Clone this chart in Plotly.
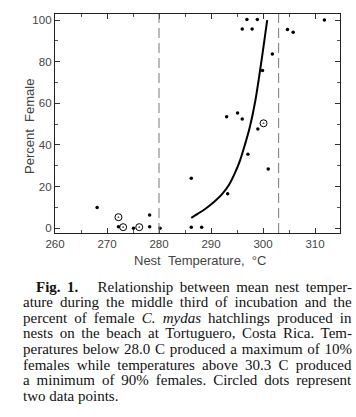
import plotly.graph_objects as go

# ---- data ----
temp_single = [268.1, 272.2, 275.1, 278.2, 278.2, 280.2, 286.2, 286.2, 288.2, 293.2,
               301.0, 293.0, 295.1, 296.0, 299.0, 297.1, 296.9, 298.9, 296.0, 297.9,
               301.8, 299.9, 304.7, 305.8, 311.8]
pct_single = [10, 0.7, 0, 6.3, 0.7, 0, 24, 0.5, 0.5, 16.5,
              28.5, 53.5, 55.3, 52.5, 47.7, 35.5, 100.3, 100.3, 95.7, 95.7,
              83.7, 75.7, 95.5, 94.1, 100]
temp_circled = [272.2, 273.1, 276.2, 300.1]
pct_circled = [5.3, 0.5, 0.5, 50.4]
curve_temp = [286.2, 287.5, 289.0, 290.5, 292.0, 293.5, 294.5, 295.5, 296.5, 297.5,
              298.5, 299.5, 300.8]
curve_pct = [5, 7, 9.5, 12.5, 16, 21, 26, 32, 40, 49, 61, 77, 100]
thresholds = [280, 303]
x_ticks = [260, 270, 280, 290, 300, 310]
y_ticks = [0, 20, 40, 60, 80, 100]

caption_lines = [
    "<b>Fig. 1.</b>\u00a0\u00a0\u00a0Relationship between mean nest temper-",
    "ature during the middle third of incubation and the",
    "percent of female <i>C. mydas</i> hatchlings produced in",
    "nests on the beach at Tortuguero, Costa Rica. Tem-",
    "peratures below 28.0 C produced a maximum of 10%",
    "females while temperatures above 30.3 C produced",
    "a minimum of 90% females. Circled dots represent",
    "two data points.",
]

W, H = 356, 417
L, R, T, B = 55, 16, 14, 184
pw, ph = W - L - R, H - T - B


def px_x(px):
    return (px - L) / pw


def px_y(py):
    return (T + ph - py) / ph


fig = go.Figure()
fig.add_trace(go.Scatter(x=curve_temp, y=curve_pct, mode="lines",
                         line=dict(color="black", width=2, shape="spline"),
                         hoverinfo="skip", showlegend=False))
fig.add_trace(go.Scatter(x=temp_single, y=pct_single, mode="markers",
                         marker=dict(color="black", size=3.5), showlegend=False))
fig.add_trace(go.Scatter(x=temp_circled, y=pct_circled, mode="markers",
                         marker=dict(symbol="circle-open-dot", color="black", size=7,
                                     line=dict(width=1)), showlegend=False))
for t in thresholds:
    fig.add_vline(x=t, line=dict(color="#777", width=1, dash="10px,5px"))

axis_font = dict(family="Liberation Sans", size=11.5, color="#444")
fig.update_xaxes(range=[260, 314.8], tickvals=x_ticks, ticks="inside", ticklen=5,
                 tickcolor="#333", showline=True, linecolor="#222", linewidth=1.3,
                 mirror="ticks", showgrid=False, zeroline=False, tickfont=axis_font,
                 automargin=False,
                 minor=dict(dtick=5, ticks="inside", ticklen=3, tickcolor="#555"))
fig.update_yaxes(range=[-2.3, 102.9], tickvals=y_ticks, ticks="inside", ticklen=5,
                 tickcolor="#333", showline=True, linecolor="#222", linewidth=1.3,
                 mirror="ticks", showgrid=False, zeroline=False, tickfont=axis_font,
                 automargin=False,
                 minor=dict(dtick=10, ticks="inside", ticklen=3, tickcolor="#555"))

title_font = dict(family="Liberation Sans", size=13, color="#444")
fig.add_annotation(text="Nest\u00a0\u00a0Temperature,\u00a0\u00a0°C", xref="paper", yref="paper",
                   x=px_x(200), y=px_y(260), xanchor="center", yanchor="middle",
                   showarrow=False, font=title_font)
fig.add_annotation(text="Percent\u00a0\u00a0Female", xref="paper", yref="paper",
                   x=px_x(29), y=px_y(127), xanchor="center", yanchor="middle",
                   textangle=-90, showarrow=False, font=title_font)

line_y = [287, 302, 318, 333, 349, 365, 380, 396]
line_x = [36] + [23] * 7
for txt, px, py in zip(caption_lines, line_x, line_y):
    fig.add_annotation(text=txt, xref="paper", yref="paper",
                       x=px_x(px), y=px_y(py),
                       xanchor="left", yanchor="middle", showarrow=False,
                       font=dict(family="Liberation Serif", size=15, color="#111"))

fig.update_layout(width=W, height=H, margin=dict(l=L, r=R, t=T, b=B),
                  paper_bgcolor="white", plot_bgcolor="white")

# page setup + justify the caption lines (all but the last) between fixed edges
post = """
document.body.style.margin='0';
document.body.style.overflow='hidden';
var lefts = [36, 23, 23, 23, 23, 23, 23, 23];
var rightEdge = 352;
var texts = document.querySelectorAll('.annotation-text');
var caps = [];
texts.forEach(function(t){ if (t.style.fontFamily.indexOf('Serif') >= 0) caps.push(t); });
for (var i = 0; i < caps.length; i++) {
  var t = caps[i];
  var r = t.getBoundingClientRect();
  var s = (t.textContent.match(/[ \\u00a0]/g) || []).length;
  if (i < caps.length - 1 && s > 0) {
    t.style.wordSpacing = ((rightEdge - lefts[i] - r.width) / s) + 'px';
  }
  var r2 = t.getBoundingClientRect();
  var dx = lefts[i] - r2.left;
  t.setAttribute('x', parseFloat(t.getAttribute('x') || 0) + dx);
}
"""
fig.write_html("out.html", config={"displayModeBar": False}, post_script=post)
